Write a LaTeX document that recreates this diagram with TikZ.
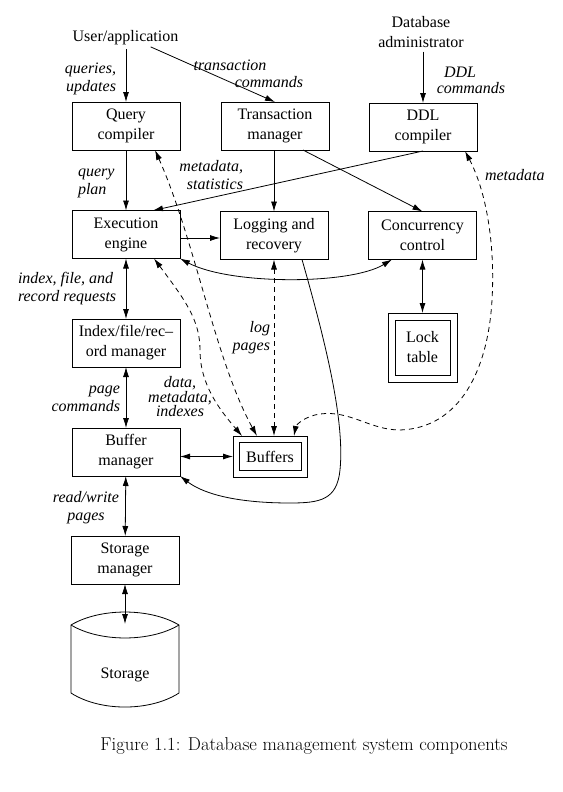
\documentclass[tikz,border=0pt]{standalone}
\usepackage{fontspec}
\newfontfamily\tnr{Liberation Serif}
\usetikzlibrary{arrows.meta}

\begin{document}
\begin{tikzpicture}[x=1pt,y=-1pt,
  every node/.style={inner sep=0pt, outer sep=0pt},
  txt/.style={font=\fontsize{16}{20}\tnr\selectfont, align=center},
  lbl/.style={font=\fontsize{16}{18}\tnr\itshape\selectfont},
  box/.style={txt, draw, line width=0.8pt, minimum width=108pt, minimum height=48pt},
  ln/.style={line width=0.8pt},
  ar/.style={ln, -{Latex[length=10pt,width=6pt]}},
  dar/.style={ln, {Latex[length=10pt,width=6pt]}-{Latex[length=10pt,width=6pt]}},
  dsh/.style={dash pattern=on 5pt off 4pt},
]
\fill[white] (0,0) rectangle (562,792);
\useasboundingbox (0,0) rectangle (562,792);

% sources of requests
\node[txt] (user) at (125.5,38) {User/application};
\node[txt] (dba) at (421,32) {Database\\administrator};

% component boxes
\node[box] (qc) at (126,126) {Query\\compiler};
\node[box] (tm) at (275,126) {Transaction\\manager};
\node[box] (ddl) at (423,127) {DDL\\compiler};
\node[box] (exec) at (126,234.5) {Execution\\engine};
\node[box] (log) at (274,235.5) {Logging and\\recovery};
\node[box] (cc) at (422.5,235.5) {Concurrency\\control};
\node[box] (idx) at (126,343) {Index/file/rec–\\ord manager};
\node[box] (bm) at (126,452) {Buffer\\manager};
\node[box] (sm) at (125,560) {Storage\\manager};

% double-framed memory structures
\node[draw, ln, minimum width=69pt, minimum height=69pt] (lock) at (422.5,347.5) {};
\node[draw, ln, minimum width=55pt, minimum height=55pt, txt] (locki) at (lock.center) {Lock\\table};
\node[draw, ln, minimum width=74pt, minimum height=41pt] (buf) at (270,456.5) {};
\node[draw, ln, minimum width=62pt, minimum height=28pt, txt] (bufi) at (buf.center) {Buffers};

% disk storage cylinder
\draw[ln] (71,625) .. controls (100,607.7) and (150,607.7) .. (179,625) -- (179,693)
  .. controls (150,711.7) and (100,711.7) .. (71,693) -- cycle;
\draw[ln] (71,625) .. controls (100,642.3) and (150,642.3) .. (179,625);
\node[txt] (stor) at (125,675) {Storage};
\coordinate (stortop) at (125,624);

% command flow
\draw[ar, shorten <=4pt] (qc.north |- user.south) -- (qc.north);
\draw[ar, shorten <=4pt] ([xshift=21.5pt]user.south) -- (tm.north);
\draw[ar, shorten <=4pt] (ddl.north |- dba.south) -- (ddl.north);
\draw[ar] (qc) -- (exec);
\draw[ar] (log.north |- tm.south) -- (log.north);
\draw[ar] ([xshift=28pt]tm.south) -- (cc.north);
\draw[ar] (ddl.south) -- ([xshift=27pt]exec.north);
\coordinate (ee) at ([yshift=-3.5pt]exec.east);
\draw[ar] (ee) -- (ee -| log.west);
\draw[dar] (exec.south east) .. controls (230,285) and (350,285) .. ([xshift=-30.5pt]cc.south);
\draw[dar] (cc.south) -- (lock.north);
\draw[dar] (exec) -- (idx);
\draw[dar] (idx) -- (bm);
\draw[dar] (bm) -- (sm);
\draw[dar] (sm.south) -- (stortop);
\draw[dar] (buf.west -| bm.east) -- (buf.west);
\draw[ar] ([xshift=28pt]log.south) .. controls (325,340) and (345,420) .. (340,470)
  .. controls (337,500) and (320,503) .. (290,503)
  .. controls (240,503) and (205,495) .. (bm.south east);

% data exchanged with the buffers
\draw[dar, dsh] ([xshift=29pt]qc.south) .. controls (195,240) and (215,360) .. ([xshift=-13pt]buf.north);
\draw[dar, dsh] ([xshift=28pt]exec.south) .. controls (185,300) and (200,320) .. (200,350)
  .. controls (200,385) and (220,410) .. ([xshift=-28pt]buf.north);
\draw[dar, dsh] (log.south) -- (log.south |- buf.north);
\draw[dar, dsh] ([xshift=42pt]ddl.south) .. controls (488,195) and (495,250) .. (492,300)
  .. controls (488,370) and (460,428) .. (400,430)
  .. controls (370,430) and (350,410) .. (320,414)
  .. controls (305,416) and (296,425) .. ([xshift=24pt]buf.north);

% edge labels
\node[lbl, align=right, anchor=east] (lq) at (116,79) {queries,\\updates};
\node[lbl] (lt1) at (230,65) {transaction};
\node[lbl] (lt2) at (269,82) {commands};
\node[lbl] (ld1) at (460,72) {DDL};
\node[lbl] (ld2) at (471,88) {commands};
\node[lbl, align=left, anchor=west] (lp) at (78,183) {query\\plan};
\node[lbl, align=right, anchor=east] (lm) at (243,175) {metadata,\\statistics};
\node[lbl, anchor=west] (lm2) at (485,175) {metadata};
\node[lbl, align=left, anchor=west] (lr) at (18,289) {index, file, and\\record requests};
\node[lbl, align=right, anchor=east] (lpc) at (120,398.5) {page\\commands};
\node[lbl, align=center] (lrw) at (86,507.5) {read/write\\pages};
\node[lbl, align=right, anchor=east] (llog) at (270,338) {log\\pages};
\node[lbl, align=center, font=\fontsize{16}{14.5}\tnr\itshape\selectfont] (ldata) at (180,397) {data,\\metadata,\\indexes};

% caption
\node[font=\fontsize{18.6}{22}\selectfont] (cap) at (304,746) {Figure 1.1: Database management system components};
\end{tikzpicture}
\end{document}
